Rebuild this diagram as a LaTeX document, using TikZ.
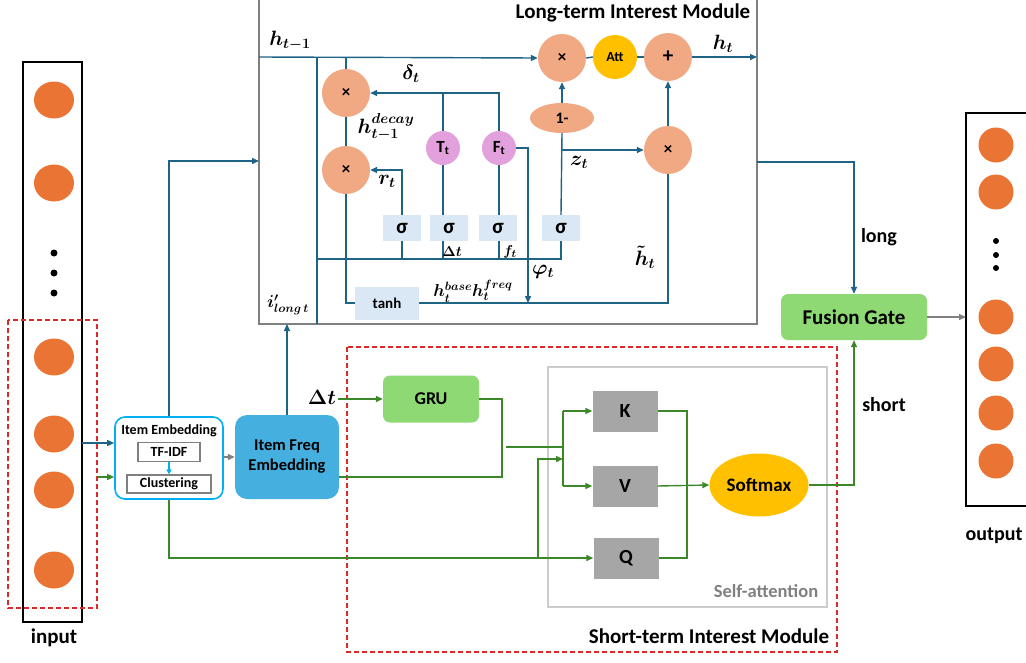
\documentclass[tikz,border=0pt]{standalone}
\usepackage{fontspec}
\setmainfont{Carlito}
\usepackage{amsmath,bm}
\usetikzlibrary{arrows.meta,shapes.geometric}
\definecolor{bluel}{RGB}{31,100,135}
\definecolor{greenl}{RGB}{60,135,40}
\definecolor{orangec}{RGB}{234,116,52}
\definecolor{salmon}{RGB}{241,169,131}
\definecolor{pinkc}{RGB}{226,160,221}
\definecolor{sigbox}{RGB}{218,231,245}
\definecolor{cyanb}{RGB}{0,176,240}
\definecolor{skyb}{RGB}{69,176,224}
\definecolor{greenf}{RGB}{142,217,115}
\definecolor{goldf}{RGB}{255,192,0}
\definecolor{grayf}{RGB}{166,166,166}
\definecolor{redd}{RGB}{220,40,40}
\tikzset{
  bl/.style={draw=bluel,line width=1.4pt},
  gr/.style={draw=greenl,line width=1.4pt},
  arr/.style={-{Triangle[length=7pt,width=6pt]}},
  opc/.style={circle,fill=salmon,minimum size=48pt,inner sep=0pt,font=\fontsize{17}{19}\selectfont\bfseries},
  tfc/.style={circle,fill=pinkc,minimum size=34pt,inner sep=0pt,font=\fontsize{17}{19}\selectfont\bfseries},
  sig/.style={rectangle,fill=sigbox,minimum width=38pt,minimum height=26pt,inner sep=0pt,font=\fontsize{21}{23}\selectfont\bfseries},
  lab/.style={font=\fontsize{20}{22}\selectfont\boldmath},
  io/.style={ellipse,fill=orangec,minimum width=40pt,minimum height=37pt,inner sep=0pt},
  kvq/.style={rectangle,fill=grayf,minimum width=65pt,minimum height=41pt,inner sep=0pt,font=\fontsize{20}{22}\selectfont\bfseries},
  dot/.style={circle,fill=black,minimum size=7pt,inner sep=0pt},
  txt/.style={font=\fontsize{21}{24}\selectfont\bfseries}
}
\begin{document}
\begin{tikzpicture}[x=1pt,y=-1pt]
\useasboundingbox (0,0) rectangle (1026,662);
% ---------- input ----------
\draw[line width=1.2pt] (23,62) rectangle (82,622);
\node[io] (i1) at (54,100) {};
\node[io] (i2) at (54,183) {};
\node[dot] (d1) at (54,253) {};
\node[dot] (d2) at (54,273) {};
\node[dot] (d3) at (54,293) {};
\node[io] (i3) at (54,357) {};
\node[io] (i4) at (54,434) {};
\node[io] (i5) at (54,490) {};
\node[io] (i6) at (54,570) {};
\draw[redd,dashed,line width=1.1pt,dash pattern=on 5pt off 3pt] (8,320) rectangle (97,608);
\node[font=\fontsize{21}{24}\selectfont\bfseries] (inlab) at (54,638) {input};
% ---------- output ----------
\draw[line width=1.2pt] (1030,113) -- (966,113) -- (966,506) -- (1030,506);
\node[io,minimum width=35pt,minimum height=35pt] (o1) at (996,145) {};
\node[io,minimum width=35pt,minimum height=35pt] (o2) at (996,192) {};
\node[dot,minimum size=6pt] (e1) at (996,241) {};
\node[dot,minimum size=6pt] (e2) at (996,255) {};
\node[dot,minimum size=6pt] (e3) at (996,268) {};
\node[io,minimum width=35pt,minimum height=35pt] (o3) at (996,317) {};
\node[io,minimum width=35pt,minimum height=35pt] (o4) at (996,364) {};
\node[io,minimum width=35pt,minimum height=35pt] (o5) at (996,413) {};
\node[io,minimum width=35pt,minimum height=35pt] (o6) at (996,461) {};
\node[font=\fontsize{20}{22}\selectfont\bfseries] (outlab) at (994,536) {output};
% ---------- long-term module ----------
\draw[gray,line width=1.3pt] (259,-3) -- (259,324) -- (757,324) -- (757,-3);
\node[txt] (ltitle) at (633,13) {Long-term Interest Module};
\node[opc] (mul1) at (346,93) {×};
\node[opc] (mul2) at (346,170) {×};
\node[opc] (mul3) at (562,58) {×};
\node[circle,fill=goldf,minimum size=44pt,inner sep=0pt,font=\fontsize{14}{16}\selectfont\bfseries] (att) at (615,57) {Att};
\node[opc,font=\fontsize{21}{23}\selectfont\bfseries] (plus) at (668,57) {+};
\node[opc] (mul4) at (668,150) {×};
\node[ellipse,fill=salmon,minimum width=64pt,minimum height=30pt,inner sep=0pt,font=\fontsize{16}{18}\selectfont\bfseries] (om) at (562,118) {1-};
\node[tfc] (T) at (443,148) {T\textsubscript{t}};
\node[tfc] (F) at (499,148) {F\textsubscript{t}};
\node[sig] (s1) at (402,228) {σ};
\node[sig] (s2) at (449,228) {σ};
\node[sig] (s3) at (498,228) {σ};
\node[sig] (s4) at (561,228) {σ};
\node[rectangle,fill=sigbox,minimum width=64pt,minimum height=33pt,inner sep=0pt,font=\fontsize{15}{17}\selectfont\bfseries] (tanh) at (387,303) {tanh};
\coordinate (hin) at (259,57);
\coordinate (hout) at (757,57);
\coordinate (vA) at (317,57);
\coordinate (vB) at (317,324);
\coordinate (bus) at (317,259);
\coordinate (phiend) at (528,303);
% h_{t-1} path
\draw[bl,arr] (hin) -- (mul3.west);
\draw[bl] (vA) -- (vB);
\draw[bl] (bus) -- (s4.south |- bus) -- (s4.south);
\draw[bl] (mul1.north) -- (mul1.north |- hin);
\draw[bl] (mul1.south) -- (mul2.north);
\draw[bl] (mul2.south) |- (tanh.west);
\draw[bl] (tanh.east) -| (mul4.south);
\draw[bl,arr] (F.east) -| (phiend);
\draw[bl,arr] (F.north) |- (mul1.east);
\draw[bl] (T.north) -- (T.north |- mul1.east);
\draw[bl] (T.south) -- (T.south |- s2.north);
\draw[bl] (T.south |- s2.south) -- (T.south |- bus);
\draw[bl] (F.south) -- (F.south |- s3.north);
\draw[bl] (F.south |- s3.south) -- (F.south |- bus);
\draw[bl,arr] (s1.north) |- (mul2.east);
\draw[bl] (s1.south) -- (s1.south |- bus);
\draw[bl] (s4.north) -- (om.south);
\draw[bl,arr] (s4.north |- mul4.west) -- (mul4.west);
\draw[bl,arr] (om.north) -- (mul3.south);
\draw[bl] (mul3.east) -- (att.west);
\draw[bl] (att.east) -- (plus.west);
\draw[bl,arr] (mul4.north) -- (plus.south);
\draw[bl,arr] (plus.east) -- (hout);
% labels
\node[lab] (lh1) at (290,41) {$\bm{h_{t-1}}$};
\node[lab] (ldelta) at (411,74) {$\bm{\delta_t}$};
\node[lab,font=\fontsize{21}{23}\selectfont\boldmath] (ldec) at (386,127) {$\bm{h_{t-1}^{decay}}$};
\node[lab] (lr) at (387,181) {$\bm{r_t}$};
\node[lab,font=\fontsize{15}{17}\selectfont\boldmath] (ldt) at (452,252) {$\bm{\Delta t}$};
\node[lab,font=\fontsize{15}{17}\selectfont\boldmath] (lf) at (510,252) {$\bm{f_t}$};
\node[lab] (lphi) at (543,272) {$\bm{\varphi_t}$};
\node[lab] (lz) at (579,162) {$\bm{z_t}$};
\node[lab] (ltil) at (645,257) {$\bm{\tilde{h}_t}$};
\node[lab,font=\fontsize{18}{20}\selectfont\boldmath] (lbase) at (473,291) {$\bm{h_t^{base}h_t^{freq}}$};
\node[lab,font=\fontsize{18}{20}\selectfont\boldmath] (lil) at (288,305) {$\bm{i'_{long\,t}}$};
\node[lab] (lht) at (723,44) {$\bm{h_t}$};
% ---------- item embedding ----------
\node[draw=cyanb,line width=1.6pt,rounded corners=10pt,minimum width=108pt,minimum height=82pt,inner sep=0pt] (ie) at (169,458) {};
\node[font=\fontsize{14}{16}\selectfont\bfseries] (ietitle) at (169,431) {Item Embedding};
\node[draw=gray,line width=1.2pt,minimum width=62pt,minimum height=19pt,inner sep=0pt,font=\fontsize{14}{16}\selectfont\bfseries] (tfidf) at (169,452) {TF-IDF};
\node[draw=gray,line width=1.2pt,minimum width=84pt,minimum height=18pt,inner sep=0pt,font=\fontsize{14}{16}\selectfont\bfseries] (clu) at (169,484) {Clustering};
\draw[cyanb,line width=1.2pt,-{Triangle[length=5pt,width=5pt]}] (tfidf.south) -- (clu.north);
\node[fill=skyb,rounded corners=12pt,minimum width=104pt,minimum height=84pt,inner sep=0pt,align=center,font=\fontsize{16.5}{20}\selectfont\bfseries] (ife) at (287,457) {Item Freq\\Embedding};
\draw[gray,line width=1.3pt,arr] (ie.east |- ife.west) -- (ife.west);
\coordinate (inB) at (82,443);
\coordinate (inG) at (98,477);
\draw[bl,arr] (inB) -- (ie.west |- inB);
\draw[gr,arr] (inG) -- (ie.west |- inG);
\coordinate (ltin) at (259,161);
\draw[bl,arr] (ie.north) |- (ltin);
\draw[bl,arr] (ife.north) -- (ife.north |- vB);
% ---------- fusion ----------
\node[fill=greenf,rounded corners=7pt,minimum width=146pt,minimum height=46pt,inner sep=0pt,txt] (fg) at (854,317) {Fusion Gate};
\coordinate (lout) at (757,162);
\draw[bl,arr] (lout) -| (fg.north);
\node[font=\fontsize{20}{22}\selectfont\bfseries] (llong) at (879,237) {long};
\coordinate (ob) at (966,317);
\draw[gray,line width=1.3pt,arr] (fg.east) -- (ob);
% ---------- short-term module ----------
\draw[redd,dashed,line width=1.1pt,dash pattern=on 5pt off 3pt] (347,347) rectangle (837,652);
\node[txt] (stitle) at (709,636) {Short-term Interest Module};
\draw[gray!40,line width=1.2pt] (548,367) rectangle (827,607);
\node[font=\fontsize{18.5}{20}\selectfont\bfseries,text=gray] (satitle) at (766,591) {Self-attention};
\node[fill=greenf,rounded corners=7pt,minimum width=96pt,minimum height=47pt,inner sep=0pt,font=\fontsize{18}{20}\selectfont\bfseries] (gru) at (431,399) {GRU};
\node[kvq] (K) at (625,411) {K};
\node[kvq] (V) at (625,486) {V};
\node[kvq] (Q) at (626,558) {Q};
\node[ellipse,fill=goldf,minimum width=99pt,minimum height=63pt,inner sep=0pt,font=\fontsize{19}{21}\selectfont\bfseries] (sm) at (759,485) {Softmax};
\node[font=\fontsize{21}{23}\selectfont\boldmath] (ldt2) at (322,397) {$\bm{\Delta t}$};
\coordinate (dts) at (338,399);
\draw[gr,arr] (dts) -- (gru.west);
\coordinate (ifg) at (339,477);
\coordinate (gc) at (502,477);
\draw[gr] (ifg) -- (gc) |- (gru.east);
\coordinate (m1) at (506,447);
\coordinate (m2) at (563,447);
\draw[gr] (m1) -- (m2);
\coordinate (kvb1) at (563,411);
\coordinate (kvb2) at (563,486);
\draw[gr] (kvb1) -- (kvb2);
\draw[gr,arr] (kvb1) -- (K.west);
\draw[gr,arr] (kvb2) -- (V.west);
\coordinate (qb) at (538,558);
\coordinate (qm) at (563,459);
\draw[gr,arr] (ie.south) |- (Q.west);
\draw[gr,arr] (qb) |- (qm);
\coordinate (kq) at (687,486);
\draw[gr] (K.east) -| (kq);
\draw[gr] (Q.east) -| (kq);
\draw[gr,arr] (V.east) -- (sm.west);
\draw[gr,arr] (sm.east) -| (fg.south);
\node[font=\fontsize{20}{22}\selectfont\bfseries] (lshort) at (884,405) {short};
\end{tikzpicture}
\end{document}
